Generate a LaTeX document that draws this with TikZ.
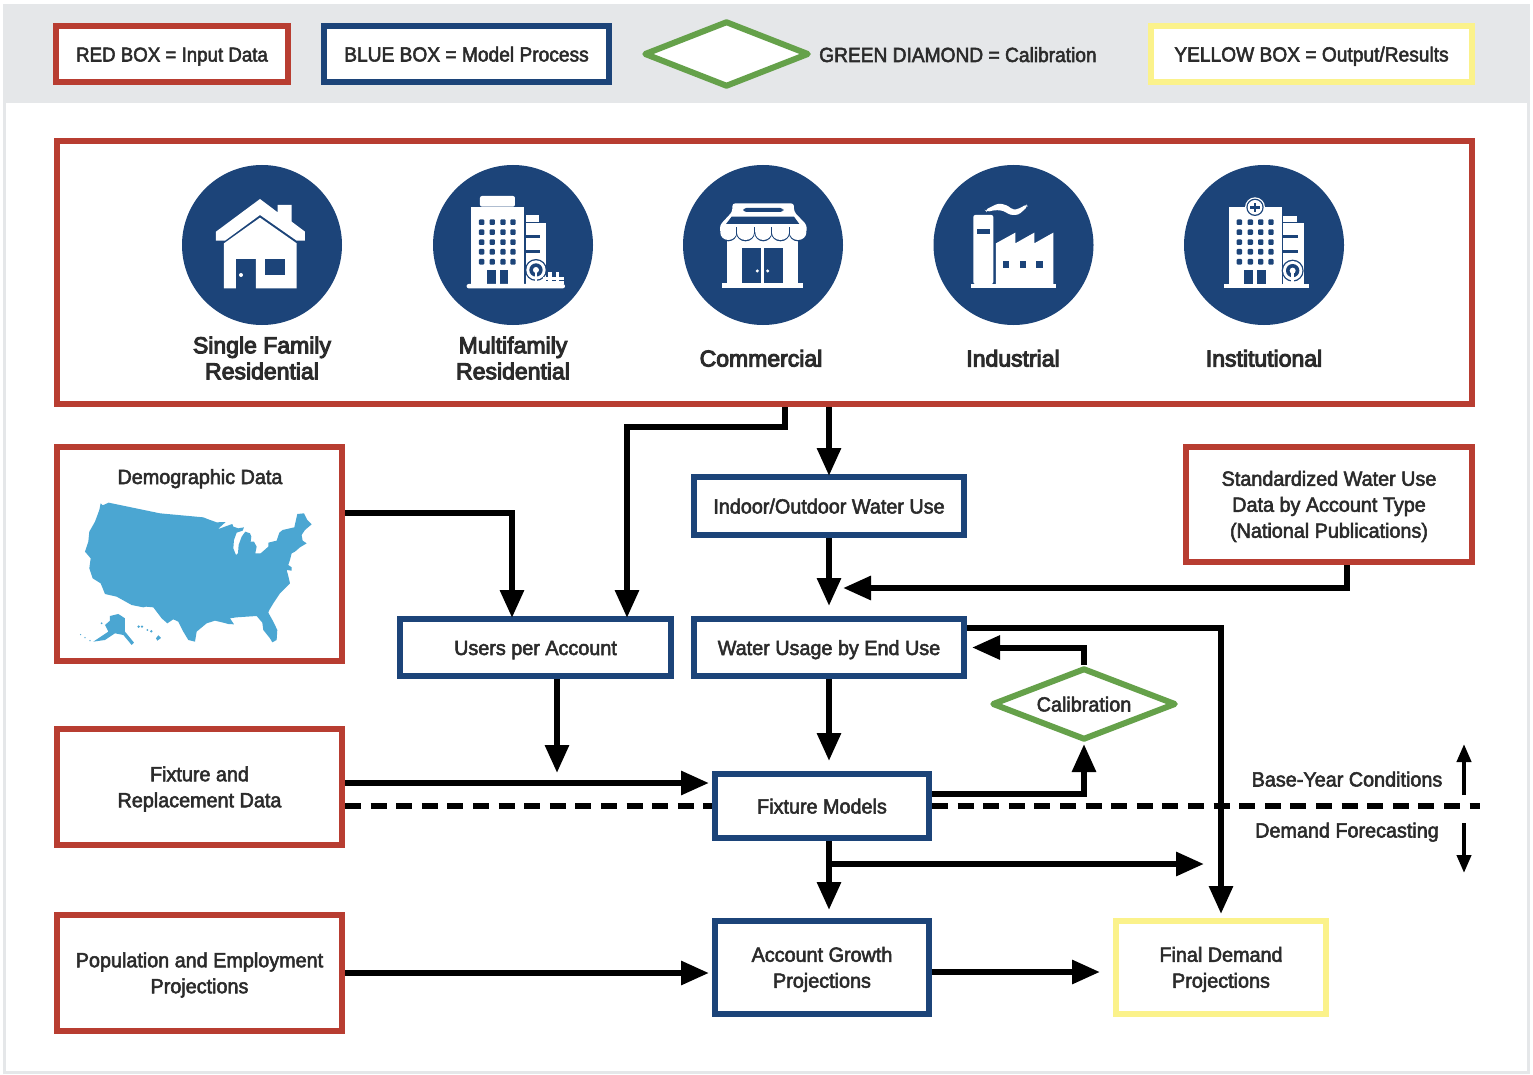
\documentclass[tikz,border=0pt]{standalone}
\usepackage{fontspec}
\newfontfamily\bodyf[FakeBold=2.6,FakeStretch=0.965]{Liberation Sans}
\newfontfamily\legf[FakeBold=2.6,FakeStretch=0.935]{Liberation Sans}
\newfontfamily\catf[FakeBold=4.5]{Liberation Sans}
\usetikzlibrary{arrows.meta,shapes.geometric,calc}
\definecolor{boxred}{HTML}{B83D31}
\definecolor{boxblue}{HTML}{1C4479}
\definecolor{boxgreen}{HTML}{65A14A}
\definecolor{boxyellow}{HTML}{FBF28B}
\definecolor{mapblue}{HTML}{4BA6D2}
\definecolor{panel}{HTML}{E5E7E9}
\definecolor{ink}{HTML}{2B2B2B}
\newcommand{\ls}{\rule[-5pt]{0pt}{25pt}}
\newcommand{\lstop}{\rule{0pt}{19.5pt}}
\tikzset{
  evenline/.style={execute at begin node=\ls,execute at end node=\ls},
  box/.style={draw,line width=6pt,fill=white,align=center,text=ink,inner sep=0pt,evenline,
     font=\bodyf\fontsize{20.5}{26}\selectfont},
  redbox/.style={box,draw=boxred},
  bluebox/.style={box,draw=boxblue},
  yellowbox/.style={box,draw=boxyellow},
  greendiamond/.style={box,shape=diamond,draw=boxgreen,line join=round},
  legfont/.style={font=\legf\fontsize{20.5}{26}\selectfont},
  lbl/.style={text=ink,align=center,inner sep=0pt,evenline,font=\bodyf\fontsize{20.5}{26}\selectfont},
  catlbl/.style={text=ink,align=center,inner sep=0pt,evenline,font=\catf\fontsize{23}{26}\selectfont},
  flow/.style={line width=6pt,-{Triangle[length=28pt,width=23pt]}},
  thin flow/.style={line width=4pt,-{Triangle[length=18pt,width=14pt]}},
  dashline/.style={line width=6pt,dash pattern=on 16pt off 9.6pt},
  disc/.style={circle,fill=boxblue,minimum size=160pt,inner sep=0pt},
  icw/.style={fill=white},
  icd/.style={fill=boxblue},
}
\newcommand{\windowgrid}[4]{% x1 x2 x3 x4
  \foreach \wx in {#1,#2,#3,#4}\foreach \wy in {208,238,268,297,327}
    \fill[icd,rounded corners=1pt] (\wx,\wy) rectangle ++(16,17);}
\newcommand{\treeicon}[2]{%
  \fill[icd] (#1,#2) circle (33);
  \fill[icw] (#1,#2) circle (29);
  \fill[icd] (#1,#2) circle (20);
  \fill[icw] (#1,#2) circle (9);
  \fill[icw] (#1-4,#2) rectangle (#1+4,#2+42);}
\begin{document}
\begin{tikzpicture}[x=1pt,y=-1pt]
\useasboundingbox (0,0) rectangle (1533,1075);
% page frame and legend band
\draw[draw=panel,line width=3pt,fill=white] (4,6) rectangle (1528,1072);
\fill[panel] (3,5) rectangle (1528,103);
% legend
\node[redbox,font=\legf\fontsize{20}{26}\selectfont,minimum width=232pt,minimum height=56pt] (legred) at (172,54) {RED BOX = Input Data};
\node[bluebox,legfont,minimum width=285pt,minimum height=56pt] (legblue) at (466.5,54) {BLUE BOX = Model Process};
\node[greendiamond,minimum width=165pt,minimum height=66pt,shape aspect=2.5] (leggreen) at (726.5,54) {};
\node[lbl,legfont,anchor=west] (leggreentxt) at (819,54.5) {GREEN DIAMOND = Calibration};
\node[yellowbox,legfont,minimum width=321pt,minimum height=56pt] (legyellow) at (1311.5,54) {YELLOW BOX = Output/Results};
% customer classes
\node[redbox,minimum width=1415pt,minimum height=263pt] (main) at (764.5,272.5) {};
\node[disc] (d1) at (262,245) {};
\node[disc] (d2) at (513,245) {};
\node[disc] (d3) at (763,245) {};
\node[disc] (d4) at (1013.5,245) {};
\node[disc] (d5) at (1264,245) {};
\node[catlbl] (c1) at (262,359) {\lstop Single Family\\Residential\ls};
\node[catlbl] (c2) at (513,359) {\lstop Multifamily\\Residential\ls};
\node[catlbl] (c3) at (761,359) {Commercial};
\node[catlbl] (c4) at (1013,359) {Industrial};
\node[catlbl] (c5) at (1264,359) {Institutional};
% house
\begin{scope}[shift={(170,150)},x=0.3333pt,y=-0.3333pt]
\fill[icw] (138,245)--(270,147)--(323,187)--(323,165)--(365,165)--(365,215)--(405,245)--(405,272)--(380,272)--(270,195)--(165,272)--(138,272)--cycle;
\fill[icw] (270,203)--(380,280)--(380,415)--(258,415)--(258,327)--(198,327)--(198,415)--(162,415)--(162,280)--cycle;
\fill[icd] (285,327) rectangle (345,375);
\fill[icw] (213,375) circle (6);
\end{scope}
% multifamily
\begin{scope}[shift={(170,150)},x=0.3333pt,y=-0.3333pt]
\fill[icw,rounded corners=2pt] (930,138) rectangle (1035,170);
\fill[icw] (903,172) rectangle (1062,402);
\windowgrid{927}{959}{991}{1021}
\fill[icd] (951,360) rectangle (977,402);
\fill[icd] (989,360) rectangle (1014,402);
\fill[icw] (1067,196) rectangle (1108,215);
\fill[icw] (1067,218) rectangle (1129,402);
\fill[icd] (1067,255) rectangle (1110,265);
\fill[icd] (1067,300) rectangle (1110,310);
\treeicon{1098}{360}
\fill[icw] (1120,380) rectangle (1182,390);
\fill[icw] (1120,394) rectangle (1182,402);
\fill[icw] (1135,366) rectangle (1145,402);
\fill[icw] (1157,366) rectangle (1167,402);
\fill[icw,rounded corners=2pt] (890,402) rectangle (1185,415);
\end{scope}
% commercial
\begin{scope}[shift={(670,150)},x=0.3333pt,y=-0.3333pt]
\fill[icw] (172,250) rectangle (385,402);
\fill[icd] (215,293) rectangle (272,399);
\fill[icd] (282,293) rectangle (339,399);
\fill[icw] (262,363) circle (5);
\fill[icw] (293,363) circle (5);
\fill[icw] (155,400) rectangle (398,415);
\fill[icw,rounded corners=3pt] (187,160)--(372,160)--(372,185)--(410,225)--(410,250)--(150,250)--(150,225)--(187,185)--cycle;
\begin{scope}
\clip (140,248) rectangle (420,290);
\foreach \sx/\sw in {150/50,200/53,255/50,305/53,358/52}
  \fill[icd] (\sx+\sw/2,248) ellipse ({\sw/2+1.5} and 26);
\foreach \sx/\sw in {150/50,200/53,255/50,305/53,358/52}
  \fill[icw] (\sx+\sw/2,248) ellipse ({\sw/2-1} and 22);
\end{scope}
\foreach \sx in {200,254,305,358}
  \fill[icd] (\sx-1.5,232) rectangle (\sx+1.5,252);
\fill[icd,rounded corners=3pt] (220,174) rectangle (340,186);
\fill[icd] (185,200)--(372,200)--(388,222)--(168,222)--cycle;
\end{scope}
% industrial
\begin{scope}[shift={(670,150)},x=0.3333pt,y=-0.3333pt]
\fill[icw,rounded corners=2pt] (910,402)--(910,195)--(970,195)--(970,402)--cycle;
\fill[icd] (922,237) rectangle (960,251);
\fill[icw] (978,402)--(978,280)--(1036,248)--(1036,280)--(1093,248)--(1093,280)--(1150,248)--(1150,402)--cycle;
\fill[icd] (998,333) rectangle (1018,353);
\fill[icd] (1049,333) rectangle (1069,353);
\fill[icd] (1099,333) rectangle (1119,353);
\fill[icw] (902,402) rectangle (1158,415);
\fill[icw,rounded corners=3pt] (945,180)--(985,160)--(1010,165)--(1030,180)--(1050,175)--(1070,162)--(1073,170)--(1045,195)--(1020,195)--(1000,182)--(975,180)--(950,186)--cycle;
\end{scope}
% institutional
\begin{scope}[shift={(1170,150)},x=0.3333pt,y=-0.3333pt]
\fill[icw] (177,172) rectangle (335,402);
\windowgrid{200}{233}{264}{295}
\fill[icw] (255,172) circle (30);
\fill[icd] (255,172) circle (26);
\fill[icw] (255,172) circle (22);
\fill[icd] (251,158) rectangle (259,186);
\fill[icd] (241,168) rectangle (269,176);
\fill[icd] (223,360) rectangle (249,402);
\fill[icd] (262,360) rectangle (288,402);
\fill[icw] (340,198) rectangle (380,215);
\fill[icw] (340,218) rectangle (402,402);
\fill[icd] (340,255) rectangle (383,265);
\fill[icd] (340,300) rectangle (383,310);
\treeicon{368}{362}
\fill[icw] (162,402) rectangle (418,415);
\end{scope}
% input boxes
\node[redbox,minimum width=285pt,minimum height=214pt] (demo) at (199.5,554) {};
\node[lbl] (demotxt) at (200,476.5) {Demographic Data};
\node[redbox,minimum width=285pt,minimum height=116pt] (fix) at (199.5,787) {\lstop Fixture and\\Replacement Data\ls};
\node[redbox,minimum width=285pt,minimum height=116pt] (pop) at (199.5,973) {\lstop Population and Employment\\Projections\ls};
\node[redbox,minimum width=286pt,minimum height=115pt] (std) at (1329,504.5) {\lstop Standardized Water Use\\Data by Account Type\\(National Publications)\ls};
% map
\begin{scope}[shift={(60,490)},x=0.3333pt,y=-0.3333pt]
\fill[mapblue] (122,40)--(128,46)--(146,38)--(300,70)--(430,82)--(445,88)--(470,97)--(497,96)--(473,118)--(500,108)--(517,102)--(520,110)--(535,115)--(552,112)--(548,122)--(530,128)--(522,150)--(520,175)--(528,195)--(534,190)--(536,165)--(545,140)--(556,125)--(570,130)--(574,140)--(572,155)--(582,155)--(590,170)--(586,190)--(602,190)--(625,170)--(625,158)--(650,152)--(658,128)--(668,120)--(703,112)--(712,72)--(732,70)--(742,90)--(755,103)--(735,120)--(725,135)--(728,152)--(740,160)--(720,172)--(705,185)--(695,190)--(690,210)--(685,225)--(695,232)--(695,242)--(680,240)--(685,258)--(690,280)--(680,290)--(660,310)--(640,340)--(628,360)--(625,368)--(640,395)--(652,420)--(650,450)--(637,457)--(630,445)--(610,420)--(607,398)--(590,378)--(560,380)--(530,382)--(510,385)--(522,403)--(505,402)--(490,398)--(465,392)--(440,400)--(410,425)--(405,455)--(385,450)--(370,425)--(355,395)--(340,388)--(322,400)--(305,385)--(280,352)--(258,350)--(250,352)--(215,345)--(170,320)--(135,312)--(122,280)--(98,265)--(88,235)--(92,205)--(75,185)--(85,155)--(88,125)--(105,95)--(118,60)--cycle;
\fill[mapblue] (150,378)--(175,372)--(195,385)--(195,425)--(222,458)--(215,465)--(190,435)--(165,430)--(135,450)--(100,455)--(130,435)--(145,425)--(135,405)--(150,392)--cycle;
\fill[mapblue] (236,410) circle (4);
\fill[mapblue] (246,410) circle (4);
\fill[mapblue] (262,420) circle (3);
\fill[mapblue] (274,424) circle (4);
\fill[mapblue] (295,436)--(303,444)--(292,452)--(288,445)--cycle;
\fill[mapblue] (125,400) circle (3);
\fill[mapblue] (90,452) circle (2);
\fill[mapblue] (75,443) circle (2);
\fill[mapblue] (62,434) circle (2);
\end{scope}
% process boxes
\node[bluebox,minimum width=271pt,minimum height=57pt] (users) at (535.5,647.5) {Users per Account};
\node[bluebox,minimum width=270pt,minimum height=58pt] (indoor) at (829,506) {Indoor/Outdoor Water Use};
\node[bluebox,minimum width=270pt,minimum height=57pt] (water) at (829,647.5) {Water Usage by End Use};
\node[bluebox,minimum width=214pt,minimum height=64pt] (models) at (822,806) {Fixture Models};
\node[bluebox,minimum width=214pt,minimum height=93pt] (account) at (822,967.5) {\lstop Account Growth\\Projections\ls};
\node[yellowbox,minimum width=210pt,minimum height=93pt] (final) at (1221,967.5) {\lstop Final Demand\\Projections\ls};
\node[greendiamond,minimum width=184pt,minimum height=72pt,shape aspect=2.55] (cal) at (1084,704) {Calibration};
% free ends
\coordinate (stdin) at (843,588);
\coordinate (usersend) at (557,773);
\coordinate (branch) at (829,864);
\coordinate (branchend) at (1204,864);
\coordinate (dashend) at (1480,806);
\coordinate (upstart) at (1464,795);
\coordinate (upend) at (1464,744);
\coordinate (downstart) at (1464,823);
\coordinate (downend) at (1464,873);
% dashed boundary
\draw[dashline] (fix.east |- models.west) -- (models.west);
\draw[dashline] (models.east) -- (dashend);
\node[lbl] (baselbl) at (1347,779) {Base-Year Conditions};
\node[lbl] (forelbl) at (1347,830) {Demand Forecasting};
\draw[thin flow] (upstart) -- (upend);
\draw[thin flow] (downstart) -- (downend);
% connectors
\draw[flow,shorten >=-2pt] ([xshift=20.5pt]main.south) -- ++(0,20) -| ([xshift=91.5pt]users.north);
\draw[flow,shorten >=-2pt] (main.south -| indoor.north) -- (indoor.north);
\draw[flow,shorten >=10pt] (indoor.south) -- (water.north);
\draw[flow] ([xshift=18pt]std.south) |- (stdin);
\draw[flow,shorten >=-2pt] ([yshift=41pt]demo.east) -| ([xshift=-23.5pt]users.north);
\draw[flow] ([xshift=21.5pt]users.south) -- (usersend);
\draw[flow,shorten >=3pt] ([yshift=4pt]fix.east) -- ([yshift=23pt]models.west);
\draw[flow,shorten >=10pt] (water.south) -- (water.south |- models.north);
\draw[flow,shorten >=1pt] ([yshift=12pt]models.east) -| (cal.south);
\draw[flow,shorten >=8pt] ([xshift=7pt]models.south) -- ([xshift=7pt]account.north);
\draw[flow] (branch) -- (branchend);
\draw[flow,shorten >=4pt] ([yshift=19.5pt]water.east) -| (final.north);
\draw[flow,shorten >=5pt] (cal.north) |- (water.east);
\draw[flow,shorten >=3pt] (pop.east) -- (pop.east -| account.west);
\draw[flow,shorten >=13pt] ([yshift=-4.5pt]account.east) -- ([yshift=-4.5pt]final.west);
\end{tikzpicture}
\end{document}
